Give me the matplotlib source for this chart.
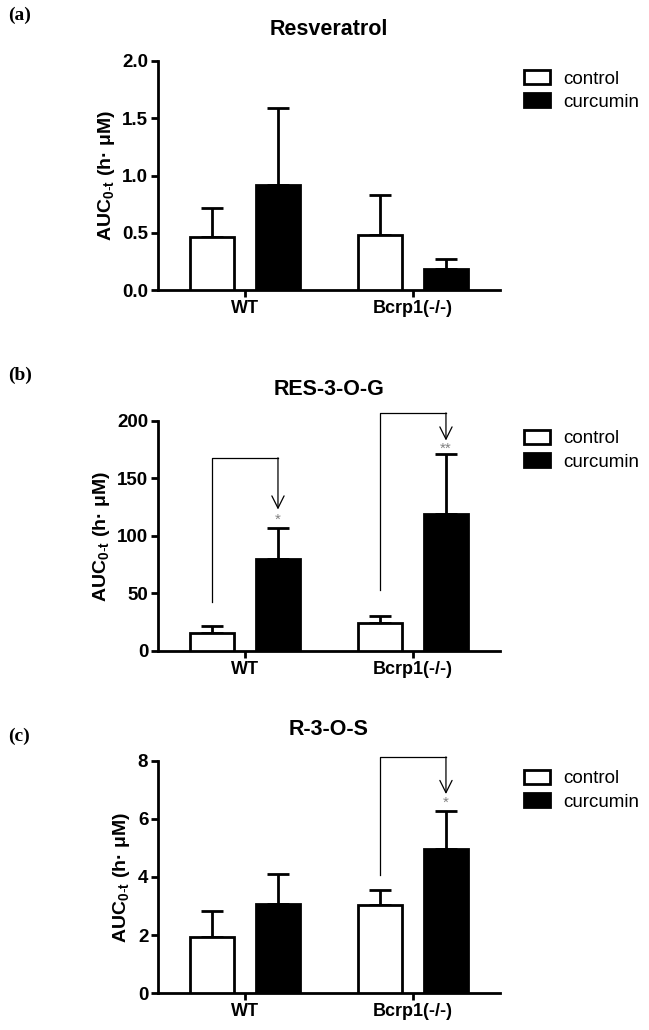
import numpy as np
import matplotlib.pyplot as plt

plt.rcParams['font.family'] = ['Liberation Sans', 'DejaVu Sans']
plt.rcParams['mathtext.fontset'] = 'custom'
plt.rcParams['mathtext.bf'] = 'Liberation Sans:bold'
plt.rcParams['mathtext.rm'] = 'Liberation Sans'

groups = ['WT', 'Bcrp1(-/-)']
series = ['control', 'curcumin']

titles = ['Resveratrol', 'RES-3-O-G', 'R-3-O-S']
panel_tags = ['(a)', '(b)', '(c)']

res_control = [0.46, 0.48]
res_control_err = [0.26, 0.35]
res_curcumin = [0.92, 0.18]
res_curcumin_err = [0.67, 0.09]

gluc_control = [16, 24]
gluc_control_err = [6, 6.5]
gluc_curcumin = [80, 119]
gluc_curcumin_err = [27, 52]

sulf_control = [1.93, 3.03]
sulf_control_err = [0.9, 0.52]
sulf_curcumin = [3.07, 4.97]
sulf_curcumin_err = [1.03, 1.3]

yticks = [[0, 0.5, 1.0, 1.5, 2.0], [0, 50, 100, 150, 200], [0, 2, 4, 6, 8]]
ytick_labels = [['0.0', '0.5', '1.0', '1.5', '2.0'], ['0', '50', '100', '150', '200'], ['0', '2', '4', '6', '8']]

# significance brackets: (group index, left foot value, top value, arrow tip value, star text, star value)
brackets = [
    [],
    [(0, 43, 168, 123, '*', 114), (1, 53, 207, 183, '**', 176)],
    [(1, 4.07, 8.14, 6.86, '*', 6.55)],
]

data = [
    (res_control, res_control_err, res_curcumin, res_curcumin_err),
    (gluc_control, gluc_control_err, gluc_curcumin, gluc_curcumin_err),
    (sulf_control, sulf_control_err, sulf_curcumin, sulf_curcumin_err),
]

fig = plt.figure(figsize=(6.49, 10.30), dpi=100)
ax_rects = [
    [0.2435, 0.7184, 0.527, 0.2224],
    [0.2435, 0.3680, 0.527, 0.2233],
    [0.2435, 0.0359, 0.527, 0.2253],
]
tag_y = [0.985, 0.636, 0.285]

x = np.arange(len(groups))
w = 0.262
off = 0.196
lw = 2.0

for i in range(3):
    ax = fig.add_axes(ax_rects[i])
    c, ce, k, ke = data[i]
    ax.bar(x - off, c, w, color='white', edgecolor='black', linewidth=lw,
           label=series[0], zorder=3)
    ax.bar(x + off, k, w, color='black', edgecolor='black', linewidth=lw,
           label=series[1], zorder=3)
    ax.errorbar(x - off, c, yerr=[np.zeros(2), ce], fmt='none', ecolor='black',
                elinewidth=lw, capsize=8, capthick=lw, zorder=2)
    ax.errorbar(x + off, k, yerr=[np.zeros(2), ke], fmt='none', ecolor='black',
                elinewidth=lw, capsize=8, capthick=lw, zorder=2)

    top = yticks[i][-1]
    ax.set_ylim(0, top)
    ax.set_xlim(-0.518, 1.518)
    ax.set_yticks(yticks[i])
    ax.set_yticklabels(ytick_labels[i], fontweight='bold', fontsize=13.5)
    ax.set_xticks(x)
    ax.set_xticklabels(groups, fontweight='bold', fontsize=13)
    for s in ['top', 'right']:
        ax.spines[s].set_visible(False)
    for s in ['left', 'bottom']:
        ax.spines[s].set_linewidth(lw)
    ax.tick_params(width=lw, length=5, direction='out', pad=2)
    ax.set_ylabel(r'AUC$_{\mathbf{0\text{-}t}}$ (h· μM)', fontweight='bold',
                  fontsize=14, labelpad=4)
    ax.set_title(titles[i], fontweight='bold', fontsize=15.5, pad=19)

    for g, foot, ytop, tip, star, sy in brackets[i]:
        xl = g - off
        xr = g + off
        ax.plot([xl, xl, xr], [foot, ytop, ytop], color='black', lw=0.9,
                clip_on=False, zorder=4)
        ax.annotate('', xy=(xr, tip), xytext=(xr, ytop),
                    arrowprops=dict(arrowstyle='->', color='black', lw=0.9,
                                    mutation_scale=22, shrinkA=0, shrinkB=0),
                    annotation_clip=False)
        ax.text(xr, sy, star, color='gray', fontsize=11, ha='center', va='center')

    ax.legend(loc='upper left', bbox_to_anchor=(1.02, 1.035), frameon=False,
              fontsize=13.5, handlelength=1.4, handleheight=0.8, labelspacing=0.3,
              handletextpad=0.7)

    fig.text(0.012, tag_y[i], panel_tags[i], fontsize=14, fontweight='bold',
             family='Liberation Serif', va='center')

fig.savefig('out.png', dpi=100)
